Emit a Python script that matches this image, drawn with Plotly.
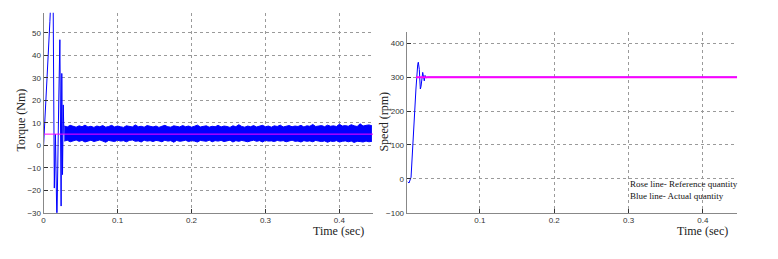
import numpy as np
import plotly.graph_objects as go

# ---- Torque transient (t in s, torque in Nm) ----
torque_t = [0.0, 0.0017, 0.003, 0.005, 0.006, 0.007, 0.0085, 0.0098, 0.012, 0.013,
            0.0145, 0.016, 0.018, 0.0205, 0.022, 0.0237, 0.0246, 0.0256, 0.0266, 0.0275]
torque_v = [0, 10, 17, 30, 37, 46, 55, 65, 65, 60,
            -19, 5, -35, 20, 47, -27, 32, -13, 18, 5]

# ---- Torque steady-state ripple band (envelope) ----
band_start, band_step = 0.028, 0.004
band_upper = [8.6, 8.2, 8.9, 8.4, 8.1, 8.7, 8.3, 9.0, 8.2, 8.5,
              8.0, 8.6, 8.3, 8.8, 8.1, 8.4, 8.9, 8.2, 8.6, 8.3,
              8.0, 8.7, 8.4, 8.2, 9.1, 8.3, 8.5, 8.1, 8.8, 8.4,
              8.2, 8.6, 8.0, 8.5, 8.9, 8.3, 8.1, 8.7, 8.4, 8.2,
              8.8, 8.3, 8.6, 8.1, 8.5, 9.0, 8.2, 8.4, 8.7, 8.1,
              8.5, 8.3, 8.9, 8.2, 8.6, 8.4, 8.0, 8.7, 8.3, 9.2,
              8.4, 8.1, 8.6, 8.3, 8.8, 8.2, 8.5, 8.9, 8.3, 8.6,
              8.1, 8.7, 8.4, 9.0, 8.2, 8.5, 8.8, 8.3, 8.6, 8.4,
              8.9, 8.2, 8.7, 8.5, 9.3, 8.4, 8.6, 8.8, 8.3, 9.0,
              8.5, 8.7, 8.4, 9.4, 8.6, 8.8, 8.5, 9.2, 8.7, 8.4,
              9.6, 8.6, 8.9, 9.1, 8.7]
band_lower = [1.9, 2.3, 1.6, 2.1, 2.4, 1.8, 2.2, 1.5, 2.0, 2.3,
              1.7, 2.1, 2.4, 1.9, 1.4, 2.2, 2.0, 1.7, 2.3, 1.9,
              2.1, 1.6, 2.2, 2.4, 1.8, 2.0, 1.5, 2.3, 1.9, 2.1,
              1.7, 2.2, 2.0, 1.6, 2.3, 1.9, 2.1, 1.4, 2.2, 1.8,
              2.0, 2.3, 1.7, 2.1, 1.9, 1.5, 2.2, 2.0, 1.8, 2.3,
              1.6, 2.1, 1.9, 2.2, 1.7, 2.0, 2.3, 1.5, 2.1, 1.8,
              2.2, 1.9, 1.6, 2.0, 2.3, 1.8, 2.1, 1.5, 2.2, 1.9,
              2.0, 1.7, 2.2, 1.9, 2.1, 1.6, 2.0, 2.3, 1.8, 1.9,
              1.5, 2.1, 1.8, 2.0, 1.6, 2.2, 1.9, 1.7, 2.0, 1.4,
              1.9, 1.7, 2.1, 1.5, 1.8, 2.0, 1.6, 1.9, 1.3, 1.8,
              1.7, 1.5, 1.9, 1.6, 1.8]
band_t = [band_start + i * band_step for i in range(len(band_upper))]

torque_ref_t = [0.0, 0.4455]
torque_ref_v = [5, 5]

# ---- Speed (rpm) ----
speed_t = [0.003, 0.0047, 0.0074, 0.0087, 0.010, 0.0118, 0.014, 0.0164, 0.0172,
           0.0185, 0.0199, 0.0208, 0.0231, 0.0252, 0.0262, 0.0275, 0.03, 0.446]
speed_v = [-9, -12, 5, 60, 100, 170, 265, 338, 344,
           323, 265, 272, 314, 289, 305, 298, 300, 300]
speed_ref_t = [0.014, 0.446]
speed_ref_v = [300, 300]

legend_lines = ["Rose line- Reference quantity", "Blue line- Actual quantity"]

BLUE = "#0000ff"
PINK = "#ff00ff"
W, H = 778, 259

fig = go.Figure()
fig.add_trace(go.Scatter(x=torque_t, y=torque_v, mode="lines",
                         line=dict(color=BLUE, width=1), xaxis="x", yaxis="y"))
fig.add_trace(go.Scatter(x=band_t, y=band_lower, mode="lines",
                         line=dict(color=BLUE, width=1), xaxis="x", yaxis="y"))
fig.add_trace(go.Scatter(x=band_t, y=band_upper, mode="lines", fill="tonexty",
                         fillcolor=BLUE, line=dict(color=BLUE, width=1),
                         xaxis="x", yaxis="y"))
# reference torque drawn on an overlaid axis pair so it sits on top of the band
fig.add_trace(go.Scatter(x=torque_ref_t, y=torque_ref_v, mode="lines",
                         line=dict(color=PINK, width=1), xaxis="x3", yaxis="y3"))
fig.add_trace(go.Scatter(x=speed_t, y=speed_v, mode="lines",
                         line=dict(color=BLUE, width=1), xaxis="x2", yaxis="y2"))
fig.add_trace(go.Scatter(x=speed_ref_t, y=speed_ref_v, mode="lines",
                         line=dict(color=PINK, width=2), xaxis="x2", yaxis="y2"))

tickfont = dict(family="Liberation Sans", size=8, color="#333")
common = dict(showgrid=True, gridcolor="#9a9a9a", griddash="dot", gridwidth=1,
              showline=True, linecolor="#888", linewidth=1, ticks="inside",
              ticklen=4, tickcolor="#333", tickfont=tickfont, zeroline=False)

xdom1 = [41.7 / W, 372 / W]
ydom1 = [(H - 217) / H, (H - 13) / H]
fig.update_layout(
    width=W, height=H, margin=dict(l=0, r=0, t=0, b=0),
    paper_bgcolor="white", plot_bgcolor="white", showlegend=False,
    xaxis=dict(domain=xdom1, range=[0, 0.4455], anchor="y",
               tickvals=[0, 0.1, 0.2, 0.3, 0.4], ticktext=["0", "0.1", "0.2", "0.3", "0.4"],
               **common),
    yaxis=dict(domain=ydom1, range=[-30, 59], anchor="x",
               tickvals=[-30, -20, -10, 0, 10, 20, 30, 40, 50], **common),
    xaxis3=dict(domain=xdom1, range=[0, 0.4455], anchor="y3", overlaying="x",
                visible=False),
    yaxis3=dict(domain=ydom1, range=[-30, 59], anchor="x3", overlaying="y",
                visible=False),
    xaxis2=dict(domain=[405.7 / W, 737 / W], range=[0.0015, 0.446], anchor="y2",
                tickvals=[0.1, 0.2, 0.3, 0.4], ticktext=["0.1", "0.2", "0.3", "0.4"],
                **common),
    yaxis2=dict(domain=[(H - 217) / H, (H - 33) / H], range=[-100, 432], anchor="x2",
                tickvals=[-100, 0, 100, 200, 300, 400], **common),
)

serif = dict(family="Liberation Serif", size=12, color="#222")
def ann(text, px, py, angle=0, font=serif, xanchor="center"):
    fig.add_annotation(text=text, x=px / W, y=1 - py / H, xref="paper", yref="paper",
                       showarrow=False, textangle=angle, font=font,
                       xanchor=xanchor, yanchor="middle")

ann("Torque (Nm)", 19, 122, angle=-90)
ann("Speed (rpm)", 383, 124, angle=-90)
ann("Time (sec)", 337, 236)
ann("Time (sec)", 702, 236)
legfont = dict(family="Liberation Serif", size=9, color="#111")
ann(legend_lines[0], 628, 188, font=legfont, xanchor="left")
ann(legend_lines[1], 628, 200, font=legfont, xanchor="left")

fig.write_html("out.html")
